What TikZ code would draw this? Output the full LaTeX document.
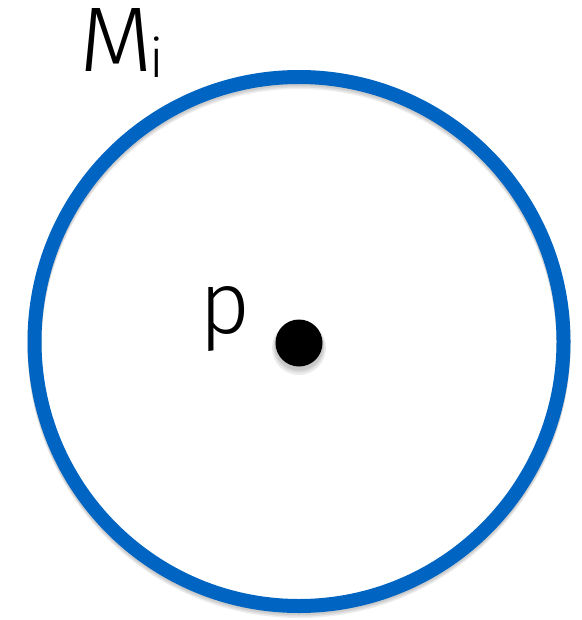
\documentclass[tikz,border=0pt]{standalone}
\usepackage{fontspec}
\setmainfont{Fira Sans}[UprightFont={* Light}]
\definecolor{ringblue}{RGB}{0,101,194}
\tikzset{
  ring/.style={draw=ringblue, line width=14pt},
  ringshadow/.style={draw=black, line width=14pt, opacity=0.07},
  dotshadow/.style={fill=black, opacity=0.08},
  label/.style={inner sep=0pt, text=black}
}
\begin{document}
\begin{tikzpicture}[x=1pt,y=-1pt]
\useasboundingbox (0,0) rectangle (581,620);
% shadows
\foreach \d in {2,3.5,5}{
  \draw[ringshadow] (299,341.5+\d) circle[radius=264.5];
}
\foreach \r/\d in {27/5,25.5/4,24.5/3}{
  \fill[dotshadow] (299,343+\d) circle[radius=\r];
}
% ring
\node[draw=none, circle, minimum size=0pt, inner sep=0pt] (c) at (299,341.5) {};
\draw[ring] (c) circle[radius=264.5];
% point
\node[circle, fill=black, minimum size=47pt, inner sep=0pt] (pt) at (299,343) {};
\node[label, anchor=base west, font=\fontsize{88}{88}\selectfont] (p) at (199,333) {p};
\node[label, anchor=base west, font=\fontsize{92}{92}\selectfont] (m) at (79,72)
  {\makebox[70pt][l]{\scalebox{1.04}[1]{M}}\raisebox{-6pt}{\fontsize{54}{54}\selectfont i}};
\end{tikzpicture}
\end{document}
